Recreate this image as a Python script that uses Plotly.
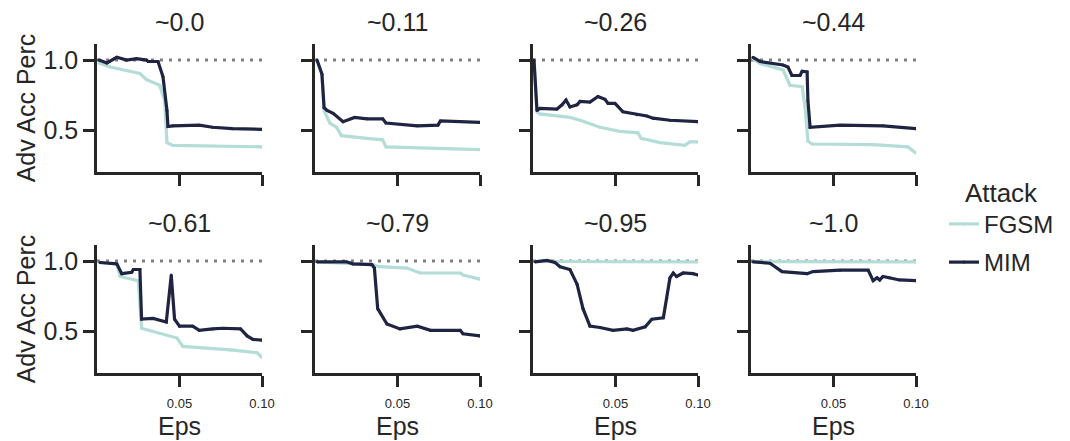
import plotly.graph_objects as go

# ---------------- data ----------------
panel_titles = ["~0.0", "~0.11", "~0.26", "~0.44", "~0.61", "~0.79", "~0.95", "~1.0"]
attacks = ["FGSM", "MIM"]
x_tickvals = [0.05, 0.10]
x_ticktext = ["0.05", "0.10"]
y_tickvals = [0.5, 1.0]
y_ticktext = ["0.5", "1.0"]
baseline_eps = [0.0, 0.1]
baseline_acc = [1.0, 1.0]

# panel 1 (~0.0)
p1_fgsm_eps = [0.0012, 0.008, 0.026, 0.030, 0.038, 0.041, 0.0424, 0.046, 0.1]
p1_fgsm_acc = [0.98, 0.95, 0.905, 0.86, 0.82, 0.71, 0.41, 0.39, 0.38]
p1_mim_eps = [0.0012, 0.006, 0.012, 0.018, 0.024, 0.030, 0.031, 0.037, 0.040, 0.0424, 0.043, 0.046, 0.062, 0.070, 0.082, 0.1]
p1_mim_acc = [1.0, 0.98, 1.02, 1.0, 1.01, 1.0, 0.99, 0.99, 0.88, 0.64, 0.525, 0.53, 0.535, 0.52, 0.51, 0.505]

# panel 2 (~0.11)
p2_fgsm_eps = [0.0012, 0.0042, 0.0055, 0.009, 0.013, 0.016, 0.0315, 0.041, 0.043, 0.0715, 0.1]
p2_fgsm_acc = [1.0, 0.9, 0.64, 0.55, 0.52, 0.46, 0.44, 0.43, 0.38, 0.37, 0.36]
p2_mim_eps = [0.0012, 0.0042, 0.0055, 0.0073, 0.011, 0.017, 0.024, 0.0315, 0.041, 0.043, 0.062, 0.0745, 0.076, 0.1]
p2_mim_acc = [1.0, 0.9, 0.66, 0.64, 0.62, 0.56, 0.59, 0.58, 0.58, 0.55, 0.53, 0.535, 0.565, 0.555]

# panel 3 (~0.26)
p3_fgsm_eps = [0.0006, 0.0024, 0.0042, 0.0224, 0.0285, 0.0406, 0.0527, 0.0636, 0.0655, 0.077, 0.092, 0.095, 0.1]
p3_fgsm_acc = [1.0, 0.63, 0.615, 0.59, 0.57, 0.52, 0.49, 0.48, 0.44, 0.41, 0.39, 0.415, 0.415]
p3_mim_eps = [0.0006, 0.0024, 0.0042, 0.0145, 0.0176, 0.02, 0.0224, 0.0267, 0.0285, 0.0345, 0.0394,
              0.0436, 0.0455, 0.0497, 0.0545, 0.063, 0.069, 0.0727, 0.083, 0.1]
p3_mim_acc = [1.0, 0.64, 0.655, 0.65, 0.68, 0.715, 0.665, 0.68, 0.705, 0.70, 0.74,
              0.72, 0.69, 0.69, 0.63, 0.61, 0.60, 0.585, 0.57, 0.56]

# panel 4 (~0.44)
p4_fgsm_eps = [0.0012, 0.0055, 0.0194, 0.0236, 0.031, 0.0327, 0.0345, 0.037, 0.074, 0.095, 0.1]
p4_fgsm_acc = [1.01, 0.975, 0.93, 0.82, 0.81, 0.67, 0.42, 0.40, 0.395, 0.38, 0.335]
p4_mim_eps = [0.0012, 0.0055, 0.0194, 0.0224, 0.0248, 0.0297, 0.031, 0.034, 0.0345, 0.0358, 0.054, 0.08, 0.1]
p4_mim_acc = [1.02, 0.99, 0.965, 0.95, 0.89, 0.89, 0.92, 0.915, 0.71, 0.52, 0.535, 0.53, 0.51]

# panel 5 (~0.61)
p5_fgsm_eps = [0.0018, 0.012, 0.014, 0.025, 0.027, 0.038, 0.0485, 0.052, 0.064, 0.081, 0.097, 0.1]
p5_fgsm_acc = [0.99, 0.98, 0.89, 0.86, 0.52, 0.485, 0.45, 0.39, 0.38, 0.365, 0.345, 0.31]
p5_mim_eps = [0.0018, 0.012, 0.015, 0.021, 0.022, 0.026, 0.027, 0.034, 0.042, 0.045, 0.047, 0.050,
              0.058, 0.062, 0.070, 0.076, 0.087, 0.091, 0.0945, 0.1]
p5_mim_acc = [0.99, 0.98, 0.91, 0.92, 0.94, 0.94, 0.585, 0.59, 0.565, 0.9, 0.585, 0.535,
              0.535, 0.505, 0.515, 0.52, 0.515, 0.465, 0.44, 0.435]

# panel 6 (~0.79)
p6_fgsm_eps = [0.0012, 0.0345, 0.039, 0.0558, 0.0636, 0.088, 0.0897, 0.1]
p6_fgsm_acc = [0.995, 0.975, 0.96, 0.95, 0.915, 0.915, 0.9, 0.87]
p6_mim_eps = [0.0012, 0.019, 0.023, 0.0345, 0.036, 0.038, 0.0436, 0.0515, 0.062, 0.07, 0.088, 0.0897, 0.1]
p6_mim_acc = [0.995, 0.995, 0.98, 0.975, 0.95, 0.66, 0.55, 0.515, 0.535, 0.505, 0.505, 0.48, 0.465]

# panel 7 (~0.95)
p7_fgsm_eps = [0.0012, 0.05, 0.1]
p7_fgsm_acc = [0.997, 0.995, 0.995]
p7_mim_eps = [0.0012, 0.0085, 0.0133, 0.0164, 0.0224, 0.0267, 0.0303, 0.0345, 0.0406, 0.0485, 0.057,
              0.0606, 0.068, 0.072, 0.079, 0.081, 0.083, 0.085, 0.087, 0.091, 0.097, 0.1]
p7_mim_acc = [0.995, 1.005, 0.99, 0.96, 0.94, 0.835, 0.66, 0.535, 0.525, 0.505, 0.515,
              0.505, 0.53, 0.585, 0.595, 0.735, 0.88, 0.915, 0.89, 0.915, 0.91, 0.9]

# panel 8 (~1.0)
p8_fgsm_eps = [0.0012, 0.05, 0.1]
p8_fgsm_acc = [0.997, 0.995, 0.995]
p8_mim_eps = [0.0012, 0.0115, 0.0188, 0.034, 0.0376, 0.054, 0.071, 0.074, 0.0764, 0.078, 0.08, 0.084, 0.09, 0.1]
p8_mim_acc = [0.995, 0.985, 0.925, 0.91, 0.925, 0.935, 0.935, 0.86, 0.88, 0.865, 0.89, 0.88, 0.865, 0.86]

fgsm_series = [(p1_fgsm_eps, p1_fgsm_acc), (p2_fgsm_eps, p2_fgsm_acc), (p3_fgsm_eps, p3_fgsm_acc),
               (p4_fgsm_eps, p4_fgsm_acc), (p5_fgsm_eps, p5_fgsm_acc), (p6_fgsm_eps, p6_fgsm_acc),
               (p7_fgsm_eps, p7_fgsm_acc), (p8_fgsm_eps, p8_fgsm_acc)]
mim_series = [(p1_mim_eps, p1_mim_acc), (p2_mim_eps, p2_mim_acc), (p3_mim_eps, p3_mim_acc),
              (p4_mim_eps, p4_mim_acc), (p5_mim_eps, p5_mim_acc), (p6_mim_eps, p6_mim_acc),
              (p7_mim_eps, p7_mim_acc), (p8_mim_eps, p8_mim_acc)]

# ---------------- style / layout ----------------
W, H = 1070, 441
FONT = "Liberation Sans, Arial, sans-serif"
INK = "#262626"
FGSM_COLOR = "#b3ddd6"
MIM_COLOR = "#1f2442"
col_px = [(97, 262), (315, 480), (533, 698), (751, 916)]
row_px = [(44, 172), (245, 373)]

fig = go.Figure()
layout = dict(
    width=W, height=H,
    margin=dict(l=0, r=0, t=0, b=0),
    paper_bgcolor="white", plot_bgcolor="white",
    font=dict(family=FONT, color=INK, size=25),
    showlegend=True,
    legend=dict(
        title=dict(text="Attack", side="top center", font=dict(size=26, color=INK)),
        x=944 / W, y=1 - 168 / H, xanchor="left", yanchor="top",
        font=dict(size=24, color=INK), bgcolor="rgba(0,0,0,0)",
        traceorder="grouped", tracegroupgap=4,
    ),
    annotations=[],
)

for i in range(8):
    r, c = divmod(i, 4)
    k = "" if i == 0 else str(i + 1)
    xa, ya = "x" + k, "y" + k
    x0, x1 = col_px[c]
    y0, y1 = row_px[r]

    fig.add_trace(go.Scatter(x=baseline_eps, y=baseline_acc, xaxis=xa, yaxis=ya, mode="lines",
                             line=dict(color="#808080", width=3, dash="3px,6px"),
                             showlegend=False, hoverinfo="skip"))
    fx, fy = fgsm_series[i]
    fig.add_trace(go.Scatter(x=fx, y=fy, xaxis=xa, yaxis=ya, mode="lines+markers", name=attacks[0],
                             legendgroup=attacks[0], showlegend=(i == 0),
                             line=dict(color=FGSM_COLOR, width=3.2),
                             marker=dict(color=FGSM_COLOR, size=3)))
    mx, my = mim_series[i]
    fig.add_trace(go.Scatter(x=mx, y=my, xaxis=xa, yaxis=ya, mode="lines+markers", name=attacks[1],
                             legendgroup=attacks[1], showlegend=(i == 0),
                             line=dict(color=MIM_COLOR, width=3.2),
                             marker=dict(color=MIM_COLOR, size=3)))

    xaxis = dict(
        domain=[x0 / W, x1 / W], range=[0.0, 0.1], anchor=ya,
        showline=True, linecolor=INK, linewidth=2.5, showgrid=False, zeroline=False,
        ticks="outside", ticklen=11, tickwidth=2.5, tickcolor=INK,
        tickvals=x_tickvals, ticktext=x_ticktext,
        showticklabels=(r == 1), tickfont=dict(size=13, color=INK),
        ticklabelstandoff=6, automargin=False,
    )
    if r == 1:
        xaxis["title"] = dict(text="Eps", font=dict(size=25, color=INK), standoff=8)
    yaxis = dict(
        domain=[1 - y1 / H, 1 - y0 / H], range=[0.2, 1.115], anchor=xa,
        showline=True, linecolor=INK, linewidth=2.5, showgrid=False, zeroline=False,
        ticks="outside", ticklen=11, tickwidth=2.5, tickcolor=INK,
        tickvals=y_tickvals, ticktext=y_ticktext,
        showticklabels=(c == 0), tickfont=dict(size=25, color=INK),
        automargin=False,
    )
    if c == 0:
        yaxis["title"] = dict(text="Adv Acc Perc", font=dict(size=25, color=INK), standoff=1)
    layout["xaxis" + k] = xaxis
    layout["yaxis" + k] = yaxis

    layout["annotations"].append(dict(
        text=panel_titles[i], xref="paper", yref="paper",
        x=(x0 + x1) / 2 / W, y=1 - (y0 - 22) / H, xanchor="center", yanchor="middle",
        showarrow=False, font=dict(size=25, color=INK)))

fig.update_layout(**layout)
fig.write_html("out.html", config={"displayModeBar": False},
               post_script="document.body.style.margin='0';document.body.style.overflow='hidden';")
